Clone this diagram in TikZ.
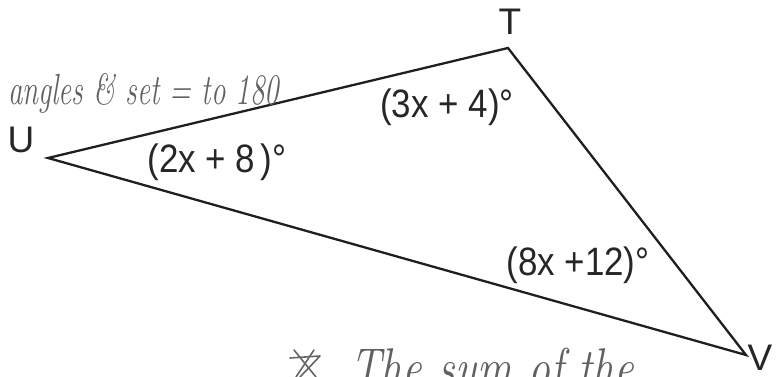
\documentclass[tikz,border=0pt]{standalone}
\usepackage{fontspec}
\setsansfont{Liberation Sans}
\begin{document}
\begin{tikzpicture}[x=1pt,y=-1pt]
\tikzset{
  side/.style={line width=2.3pt, draw=black!88, line join=miter},
  lbl/.style={font=\sffamily\fontsize{37}{37}\selectfont, text=black!85, inner sep=0pt},
  ang/.style={font=\sffamily\fontsize{36}{36}\selectfont, text=black!85, inner sep=0pt, xscale=0.97, yscale=1.1},
  hand/.style={font=\itshape\fontsize{29}{29}\selectfont, text=black!62, inner sep=0pt},
  bighand/.style={font=\itshape\fontsize{42}{42}\selectfont, text=black!62, inner sep=0pt},
  scrib/.style={line width=1.6pt, draw=black!60, line cap=round, line join=round}
}
\useasboundingbox (0,0) rectangle (780,377);
\fill[white] (0,0) rectangle (780,377);
\clip (0,0) rectangle (780,377);
% vertices
\coordinate (U) at (48,158);
\coordinate (T) at (508,48);
\coordinate (V) at (746,355);
\draw[side] (U) -- (T) -- (V) -- cycle;
% vertex labels
\node[lbl] (lT) at (510,22) {T};
\node[lbl] (lU) at (21,140) {U};
\node[lbl] (lV) at (760,358) {V};
% angle labels
\node[ang] (aT) at (447,107) {(3x + 4)°};
\node[ang] (aU) at (217,162) {(2x + 8\,)°};
\node[ang] (aV) at (578,265) {(8x +12)°};
% handwriting
\node[hand, anchor=base west] (note) at (8,105) {\scalebox{1}[1.5]{angles \& set = to 180}};
\node[bighand, anchor=base west] (sum) at (350,386) {\scalebox{1.04}[1.3]{The sum of the}};
\draw[scrib] (290,358) -- (320,356) -- (300,377);
\draw[scrib] (294,350) -- (316,377);
\draw[scrib] (314,350) -- (296,377);
\end{tikzpicture}
\end{document}
